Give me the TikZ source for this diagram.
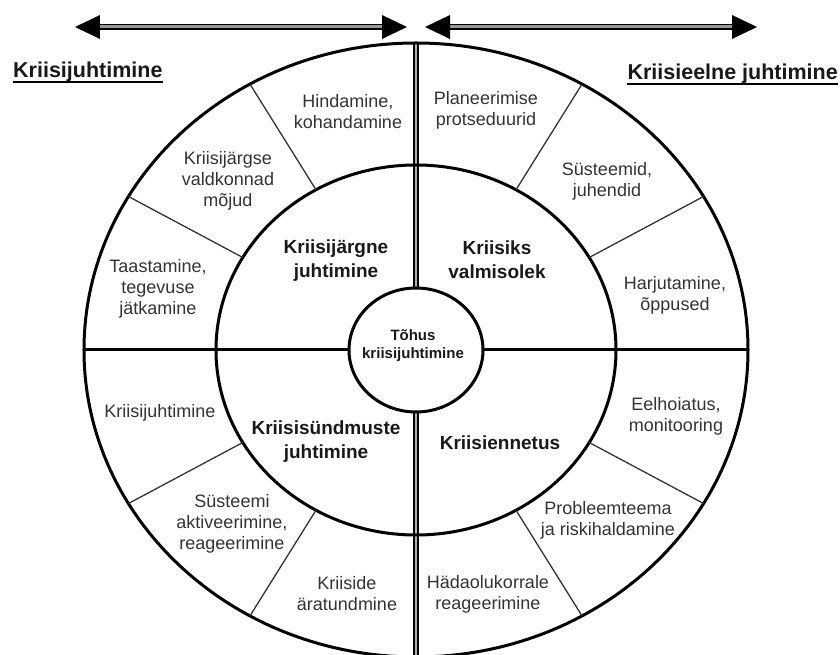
\documentclass[tikz,border=0pt]{standalone}
\usepackage{fontspec}
\setmainfont{Liberation Sans}
\usepackage{tikz}
\usetikzlibrary{shapes,arrows,positioning,calc,arrows.meta}

\tikzset{
  ring/.style={line width=3pt},
  spoke/.style={line width=1.3pt, draw=black!80},
  split/.style={line width=3pt},
  dbl/.style={double=black!30, double distance=2.5pt, line width=2pt},
  shaft/.style={double=black!40, double distance=3pt, line width=1.9pt},
  tip/.style={fill=black},
  item/.style={align=center, text=black!80, font=\fontsize{18}{21}\selectfont},
  phase/.style={align=center, text=black!90, font=\bfseries\fontsize{19}{24}\selectfont},
  head/.style={inner sep=0pt, text=black!90, font=\bfseries\fontsize{21.5}{24}\selectfont},
}

\begin{document}
\begin{tikzpicture}[x=1pt,y=1pt]
    \useasboundingbox (-416,-305) rectangle (424,350);
    \clip (-416,-305) rectangle (424,350);

    % double axis
    \draw[dbl] (0,307) -- (0,62);
    \draw[dbl] (0,-62) -- (0,-320);
    \draw[split] (-332,0) -- (-67,0);
    \draw[split] (67,0) -- (332,0);

    \draw[ring] (0,0) ellipse [x radius=332pt, y radius=307pt];
    \draw[ring] (0,0) ellipse [x radius=200pt, y radius=185pt];
    \draw[ring, fill=white] (0,0) ellipse [x radius=67pt, y radius=62pt];

    \foreach \a in {30,60,120,150,210,240,300,330}{
        \coordinate (in\a) at (\a:200 and 185);
        \coordinate (out\a) at (\a:332 and 307);
        \draw[spoke] (in\a) -- (out\a);
    }

    % arrows on top
    \coordinate (la) at (-341,323);
    \coordinate (lb) at (-9,323);
    \coordinate (ra) at (9,323);
    \coordinate (rb) at (341,323);
    \draw[shaft, shorten <=20pt, shorten >=20pt] (la) -- (lb);
    \draw[shaft, shorten <=20pt, shorten >=20pt] (ra) -- (rb);
    \foreach \p/\q in {la/lb,lb/la,ra/rb,rb/ra}{
        \fill[tip] (\q) -- ($(\q)!25pt!(\p)+(0,12)$) -- ($(\q)!25pt!(\p)+(0,-12)$) -- cycle;
    }

    \node[head, anchor=base west] (lhead) at (-403,272) {Kriisijuhtimine};
    \node[head, anchor=base east] (rhead) at (422,270) {Kriisieelne juhtimine};
    \draw[line width=1.5pt] ([yshift=-4pt]lhead.base west) -- ([yshift=-4pt]lhead.base east);
    \draw[line width=1.5pt] ([yshift=-4pt]rhead.base west) -- ([yshift=-4pt]rhead.base east);

    \node[item] (hindamine) at (-68,238) {Hindamine,\\kohandamine};
    \node[item] (mojud) at (-188,169) {Kriisijärgse\\valdkonnad\\mõjud};
    \node[item] (taastamine) at (-258,61) {Taastamine,\\tegevuse\\jätkamine};
    \node[phase] (jargne) at (-80,89) {Kriisijärgne\\juhtimine};

    \node[item] (planeerimine) at (70,240) {Planeerimise\\protseduurid};
    \node[item] (susteemid) at (191,169) {Süsteemid,\\juhendid};
    \node[item] (harjutamine) at (259,55) {Harjutamine,\\õppused};
    \node[phase] (valmisolek) at (81,90) {Kriisiks\\valmisolek};

    \node[align=center, text=black!90, font=\bfseries\fontsize{15}{18}\selectfont] (tohus) at (-3,4) {Tõhus\\kriisijuhtimine};

    \node[item] (juhtimine) at (-256,-63) {Kriisijuhtimine};
    \node[item] (aktiveerimine) at (-184,-174) {Süsteemi\\aktiveerimine,\\reageerimine};
    \node[item] (aratundmine) at (-69,-244) {Kriiside\\äratundmine};
    \node[phase] (syndmused) at (-90,-92) {Kriisisündmuste\\juhtimine};

    \node[item] (eelhoiatus) at (260,-66) {Eelhoiatus,\\monitooring};
    \node[item] (probleem) at (192,-170) {Probleemteema\\ja riskihaldamine};
    \node[item] (hadaolukord) at (72,-244) {Hädaolukorrale\\reageerimine};
    \node[phase] (ennetus) at (84,-93) {Kriisiennetus};
\end{tikzpicture}
\end{document}
